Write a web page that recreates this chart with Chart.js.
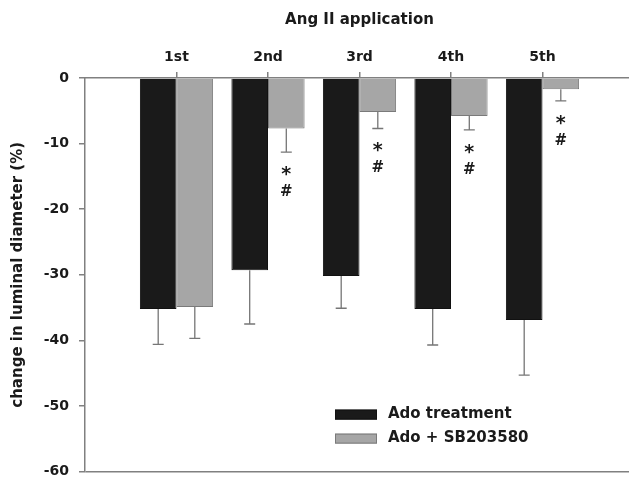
<!DOCTYPE html>
<html>
<head>
<meta charset="utf-8">
<script src="https://cdn.jsdelivr.net/npm/chart.js@4.4.1/dist/chart.umd.min.js"></script>
<style>
  html, body { margin: 0; padding: 0; background: #fff; overflow: hidden; }
  /* um pouco maior que a janela: o eixo x do original sai pela direita */
  #wrap { width: 640px; height: 490px; }
</style>
</head>
<body>
<div id="wrap"><canvas id="grafico"></canvas></div>
<script>
// ─── Dados ────────────────────────────────────────────────────────────────────
const CATEGORIAS = ['1st', '2nd', '3rd', '4th', '5th'];
const ADO        = [-35.2, -29.3, -30.2, -35.2, -36.9];
const ADO_ERR    = [5.4, 8.2, 4.9, 5.5, 8.4];
const ADO_SB     = [-34.9, -7.7, -5.2, -5.8, -1.7];
const ADO_SB_ERR = [4.8, 3.6, 2.5, 2.1, 1.8];
const ADO_SB_SIG = [false, true, true, true, true];
const Y_TICKS    = [0, -10, -20, -30, -40, -50, -60];

const FONTE   = "'DejaVu Sans', sans-serif";
const TEXTO   = '#1a1a1a';
const EIXO    = '#808080';

// uma categoria vazia de cada lado, como no original
const pad = arr => [null, ...arr, null];

// ─── Barras de erro (só para baixo) ──────────────────────────────────────────
const barrasErro = {
  id: 'barrasErro',
  afterDatasetsDraw(chart) {
    const { ctx } = chart;
    const y = chart.scales.y;
    ctx.save();
    ctx.strokeStyle = '#767676';
    ctx.lineWidth = 1.3;
    chart.data.datasets.forEach((ds, di) => {
      chart.getDatasetMeta(di).data.forEach((bar, i) => {
        const v = ds.data[i], e = ds.erro[i];
        if (v == null || e == null) return;
        const yEnd = y.getPixelForValue(v - e);
        ctx.beginPath();
        ctx.moveTo(bar.x, bar.y);
        ctx.lineTo(bar.x, yEnd);
        ctx.moveTo(bar.x - 5.5, yEnd);
        ctx.lineTo(bar.x + 5.5, yEnd);
        ctx.stroke();

        // * e # abaixo da barra de erro
        if (ds.sig && ds.sig[i]) {
          ctx.fillStyle = TEXTO;
          ctx.textAlign = 'center';
          ctx.textBaseline = 'middle';
          ctx.font = `bold 19px ${FONTE}`;
          ctx.fillText('*', bar.x, yEnd + 23);
          ctx.font = `bold 15px ${FONTE}`;
          ctx.fillText('#', bar.x, yEnd + 40);
        }
      });
    });
    ctx.restore();
  },
};

// ─── Legenda dentro da área do gráfico ───────────────────────────────────────
const legendaInterna = {
  id: 'legendaInterna',
  afterDraw(chart) {
    const { ctx, chartArea } = chart;
    ctx.save();
    ctx.font = `bold 15px ${FONTE}`;
    ctx.textAlign = 'left';
    ctx.textBaseline = 'middle';
    chart.data.datasets.forEach((ds, i) => {
      const x0 = chartArea.left + 250;
      const y0 = chartArea.bottom - 62 + i * 24;
      ctx.fillStyle = ds.backgroundColor;
      ctx.fillRect(x0, y0, 42, 10);
      ctx.strokeStyle = ds.borderColor;
      ctx.lineWidth = 1;
      ctx.strokeRect(x0 + 0.5, y0 + 0.5, 41, 9);
      ctx.fillStyle = TEXTO;
      ctx.fillText(ds.label, x0 + 53, y0 + 5);
    });
    ctx.restore();
  },
};

const fonteTick = { family: FONTE, size: 14, weight: 'bold' };

new Chart(document.getElementById('grafico'), {
  type: 'bar',
  data: {
    labels: pad(CATEGORIAS).map(c => c ?? ''),
    datasets: [
      {
        label: 'Ado treatment',
        data: pad(ADO),
        erro: pad(ADO_ERR),
        backgroundColor: '#1a1a1a',
        borderColor: '#111111',
        borderWidth: 1,
      },
      {
        label: 'Ado + SB203580',
        data: pad(ADO_SB),
        erro: pad(ADO_SB_ERR),
        sig: pad(ADO_SB_SIG),
        backgroundColor: '#a6a6a6',
        borderColor: '#7a7a7a',
        borderWidth: 1,
      },
    ],
  },
  options: {
    responsive: true,
    maintainAspectRatio: false,
    animation: false,
    categoryPercentage: 0.8,
    barPercentage: 1.0,
    layout: { padding: { top: 0, left: 0, right: 1, bottom: 0 } },
    plugins: { legend: { display: false }, tooltip: { enabled: false } },
    scales: {
      x: {
        position: 'top',
        offset: false,
        afterFit: s => { s.height = 78; },
        border: { color: EIXO, width: 1.5 },
        grid: {
          offset: false,
          drawOnChartArea: false,
          tickLength: 6,
          lineWidth: 1.5,
          tickColor: c => (c.tick && c.tick.label) ? EIXO : 'transparent',
        },
        ticks: { color: TEXTO, font: fonteTick, padding: 6, maxRotation: 0, autoSkip: false },
        title: {
          display: true,
          text: 'Ang II application',
          color: TEXTO,
          font: { family: FONTE, size: 15, weight: 'bold' },
          padding: { top: 11, bottom: 0 },
        },
      },
      y: {
        min: -60,
        max: 0,
        afterBuildTicks: s => { s.ticks = Y_TICKS.map(v => ({ value: v })); },
        afterFit: s => { s.width = 85; },
        border: { color: EIXO, width: 1.5 },
        grid: {
          color: c => (c.tick && c.tick.value === -60) ? EIXO : 'transparent',
          tickColor: EIXO,
          tickLength: 6,
          lineWidth: 1.5,
        },
        ticks: { color: TEXTO, font: fonteTick, padding: 10 },
        title: {
          display: true,
          text: 'change in luminal diameter (%)',
          color: TEXTO,
          font: { family: FONTE, size: 15, weight: 'bold' },
          padding: { top: 9, bottom: 0 },
        },
      },
    },
  },
  plugins: [barrasErro, legendaInterna],
});
</script>
</body>
</html>
